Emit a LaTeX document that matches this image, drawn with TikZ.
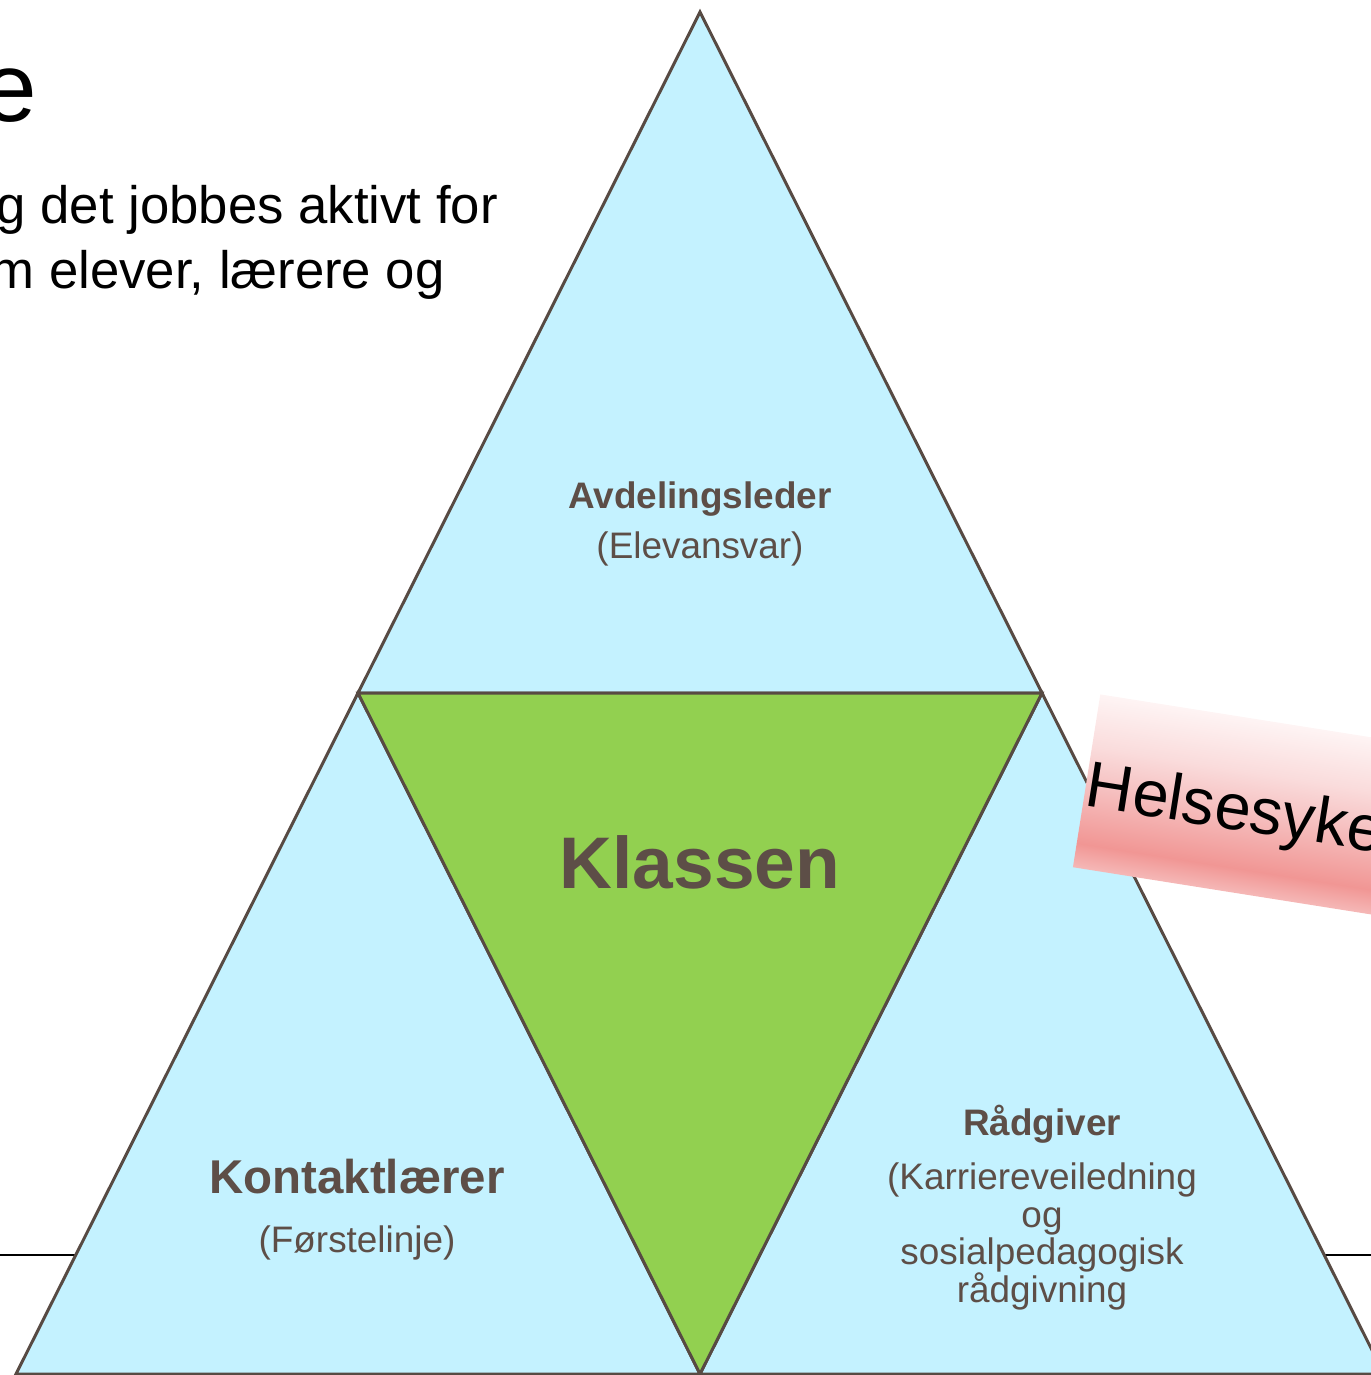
\documentclass[tikz,border=0pt]{standalone}
\usepackage{fontspec}
\setmainfont{Liberation Sans}
\usetikzlibrary{shadings}
\definecolor{lysblaa}{HTML}{C4F2FF}
\definecolor{klassegronn}{HTML}{92D050}
\definecolor{kant}{HTML}{574A43}
\definecolor{tekstbrun}{HTML}{5D4E47}
\definecolor{helseA}{HTML}{FEF4F4}
\definecolor{helseL}{HTML}{FADCDC}
\definecolor{helseM}{HTML}{F6C4C4}
\definecolor{helseB}{HTML}{F19694}
\definecolor{helseC}{HTML}{F5B8B7}
\pgfdeclareverticalshading{helsegrad}{100bp}{color(0bp)=(helseC); color(25bp)=(helseC); color(32bp)=(helseB); color(50bp)=(helseM); color(60bp)=(helseL); color(75bp)=(helseA); color(100bp)=(helseA)}
\tikzset{
  felt/.style={fill=lysblaa, draw=kant, line width=1.7pt, line join=miter},
  midtfelt/.style={felt, fill=klassegronn},
  rolle/.style={text=tekstbrun, inner sep=0pt, anchor=base, font=\bfseries\fontsize{21pt}{25pt}\selectfont},
  merknad/.style={text=tekstbrun, inner sep=0pt, anchor=base, font=\fontsize{21pt}{21.3pt}\selectfont},
  ingress/.style={inner sep=0pt, anchor=base east, font=\fontsize{30pt}{34pt}\selectfont}
}
\begin{document}
\begin{tikzpicture}[x=0.02cm, y=-0.02cm]
            \useasboundingbox (0,0) rectangle (1371,1375);
            \coordinate (T) at (700,12); \coordinate (L) at (358,693); \coordinate (R) at (1042,693);
            \coordinate (BL) at (16,1374); \coordinate (BM) at (700,1374); \coordinate (BR) at (1384,1374);
            \coordinate (S1) at (0,1255); \coordinate (S2) at (1371,1255);
            \draw[black, line width=1.1pt] (S1) -- (S2);
            \draw[felt] (T) -- (R) -- (L) -- cycle;
            \draw[felt] (L) -- (BM) -- (BL) -- cycle;
            \draw[felt] (R) -- (BR) -- (BM) -- cycle;
            \draw[midtfelt] (L) -- (R) -- (BM) -- cycle;
            \node[inner sep=0pt, anchor=base east, font=\fontsize{55.8pt}{60pt}\selectfont] (tittel) at (37,122) {e};
            \node[ingress] (ingress1) at (498,223) {g det jobbes aktivt for};
            \node[ingress] (ingress2) at (445,288) {m elever, lærere og};
            \node[rolle] (avd) at (700,508) {Avdelingsleder};
            \node[merknad] (elev) at (700,558) {(Elevansvar)};
            \node[rolle, font=\bfseries\fontsize{41.6pt}{45pt}\selectfont] (klassen) at (700,888) {Klassen};
            \node[rolle, font=\bfseries\fontsize{27pt}{30pt}\selectfont] (kontakt) at (357,1193) {Kontaktlærer};
            \node[merknad] (forste) at (357,1252) {(Førstelinje)};
            \node[rolle] (radgiver) at (1042,1135) {Rådgiver};
            \node[merknad, align=center] (radtekst) at (1042,1302) {(Karriereveiledning\\og\\sosialpedagogisk\\rådgivning};
            \begin{scope}[transform canvas={rotate around={-9:(1100,694)}}]
              \node[anchor=north west, minimum width=12cm, minimum height=3.5cm, shading=helsegrad, inner sep=0pt] (helse) at (1100,694) {};
              \node[anchor=base west, inner sep=0pt, font=\fontsize{37pt}{40pt}\selectfont] (helsetekst) at (1101,807) {Helsesyke};
            \end{scope}
        \end{tikzpicture}
\end{document}
